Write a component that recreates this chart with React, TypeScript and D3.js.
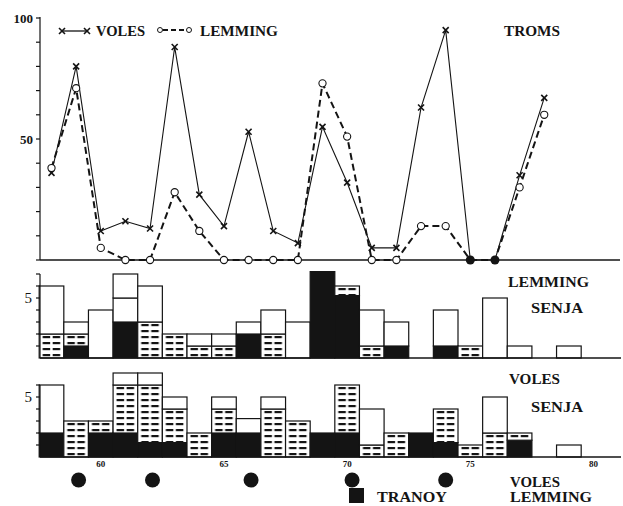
import React from 'react';
import * as d3 from 'd3';

// ---- Top panel (TROMS), index values 0-100 ----
const years = [58, 59, 60, 61, 62, 63, 64, 65, 66, 67, 68, 69, 70, 71, 72, 73, 74, 75, 76, 77, 78];
const voles = [36, 80, 12, 16, 13, 88, 27, 14, 53, 12, 7, 55, 32, 5, 5, 63, 95, 0, 0, 35, 67];
const lemming = [38, 71, 5, 0, 0, 28, 12, 0, 0, 0, 0, 73, 51, 0, 0, 14, 14, 0, 0, 30, 60];
const filledZeroYears = [75, 76];
const topTicks = [0, 10, 20, 30, 40, 50, 60, 70, 80, 90, 100];
const topTickLabels = [50, 100];

// ---- Stacked bars (SENJA), years 58-79 ----
const barYears = [58, 59, 60, 61, 62, 63, 64, 65, 66, 67, 68, 69, 70, 71, 72, 73, 74, 75, 76, 77, 78, 79];
// Lemming Senja
const lemBlack = [0, 1, 0, 3, 0, 0, 0, 0, 2, 0, 0, 7.2, 5.2, 0, 1, 0, 1, 0, 0, 0, 0, 0];
const lemHatch = [2, 1, 0, 0, 3, 2, 1, 1, 0, 2, 0, 0, 0.8, 1, 0, 0, 0, 1, 0, 0, 0, 0];
const lemWhite = [4, 1, 4, 2, 3, 0, 1, 1, 1, 2, 3, 0, 0, 3, 2, 0, 3, 0, 5, 1, 0, 1];
const lemWhite2 = [0, 0, 0, 2, 0, 0, 0, 0, 0, 0, 0, 0, 0, 0, 0, 0, 0, 0, 0, 0, 0, 0];
// Voles Senja
const volBlack = [2, 0, 2, 2, 1.2, 1.2, 0, 2, 2, 0, 0, 2, 2, 0, 0, 2, 1.2, 0, 0, 1.4, 0, 0];
const volHatch = [0, 3, 1, 4, 4.8, 2.8, 2, 2, 0, 4, 3, 0, 4, 1, 2, 0, 2.8, 1, 2, 0.6, 0, 0];
const volWhite = [4, 0, 0, 1, 1, 1, 0, 1, 1.2, 1, 0, 0, 0, 3, 0, 0, 0, 0, 3, 0, 0, 1];
const volWhite2 = [0, 0, 0, 0, 0, 0, 0, 0, 0, 0, 0, 0, 0, 0, 0, 0, 0, 0, 0, 0, 0, 0];
const midTicks = [1, 2, 3, 4, 5, 6, 7];
const botTicks = [1, 2, 3, 4, 5, 6];

const yearTicks = [60, 65, 70, 75, 80];
const tranoyDots = [59.1, 62.1, 66.1, 70.2, 74.0];
const tranoySquare = 70.4;

const FONT = "'Liberation Serif', 'Times New Roman', serif";
const INK = '#141414';

function Stack({ x, y, black, hatch, white, white2, patternId }: any) {
  const bw = x(1) - x(0);
  const out: any[] = [];
  barYears.forEach((yr, i) => {
    const segs = [
      { v: black[i], fill: INK },
      { v: hatch[i], fill: `url(#${patternId})` },
      { v: white[i], fill: '#fff' },
      { v: white2[i], fill: '#fff' },
    ];
    let base = 0;
    segs.forEach((s, j) => {
      if (s.v > 0) {
        const y0 = y(base);
        const y1 = y(base + s.v);
        out.push(
          <rect key={`${yr}-${j}`} x={x(yr) - bw / 2} y={y1} width={bw} height={y0 - y1}
            fill={s.fill} stroke={INK} strokeWidth={1.2} />
        );
        base += s.v;
      }
    });
  });
  return <g>{out}</g>;
}

function XMark({ cx, cy }: any) {
  const s = 3;
  return (
    <g stroke={INK} strokeWidth={1.6}>
      <line x1={cx - s} y1={cy - s} x2={cx + s} y2={cy + s} />
      <line x1={cx - s} y1={cy + s} x2={cx + s} y2={cy - s} />
    </g>
  );
}

export default function App() {
  const W = 623, H = 506;
  const x = d3.scaleLinear().domain([58, 80]).range([51.5, 593.5]);
  const bw = x(1) - x(0);
  const yTop = d3.scaleLinear().domain([0, 100]).range([260, 18]);
  const yMid = d3.scaleLinear().domain([0, 7]).range([358, 274]);
  const yBot = d3.scaleLinear().domain([0, 6]).range([457, 385]);
  const axisX = 40;

  const line = d3.line<number>().x((_, i) => x(years[i])).y((d) => yTop(d));

  const textStyle = { fontFamily: FONT, fontWeight: 'bold' as const, fill: INK };

  return (
    <svg width={W} height={H} style={{ position: 'absolute', left: 0, top: 0, background: '#fff' }}>
      <defs>
        {[
          { id: 'hatchMid', base: yMid(0) },
          { id: 'hatchBot', base: yBot(0) },
        ].map((p) => (
          <pattern key={p.id} id={p.id} patternUnits="userSpaceOnUse" x={x(57.5)} y={p.base}
            width={bw} height={6}>
            <rect x={0} y={0} width={bw} height={6} fill="#fff" />
            <rect x={3.5} y={2} width={7.5} height={2.2} fill={INK} />
            <rect x={13.5} y={2} width={7.5} height={2.2} fill={INK} />
          </pattern>
        ))}
      </defs>

      {/* ===== TOP PANEL ===== */}
      <line x1={axisX} x2={axisX} y1={yTop(100) - 1} y2={yTop(0)} stroke={INK} strokeWidth={1.2} />
      {topTicks.map((t) => (
        <line key={t} x1={axisX - 4} x2={axisX} y1={yTop(t)} y2={yTop(t)} stroke={INK} strokeWidth={1.2} />
      ))}
      {topTickLabels.map((t) => (
        <text key={t} x={axisX - 7} y={yTop(t) + 4.5} textAnchor="end" fontSize={13} {...textStyle}>{t}</text>
      ))}
      <line x1={axisX} x2={620} y1={yTop(0)} y2={yTop(0)} stroke={INK} strokeWidth={1.5} />

      <path d={line(lemming) || ''} fill="none" stroke={INK} strokeWidth={2} strokeDasharray="7,4" />
      <path d={line(voles) || ''} fill="none" stroke={INK} strokeWidth={1.1} />
      {voles.map((v, i) =>
        filledZeroYears.includes(years[i]) ? null : <XMark key={`v${i}`} cx={x(years[i])} cy={yTop(v)} />
      )}
      {lemming.map((v, i) =>
        filledZeroYears.includes(years[i]) ? null : (
          <circle key={`l${i}`} cx={x(years[i])} cy={yTop(v)} r={3.6} fill="#fff" stroke={INK} strokeWidth={1.1} />
        )
      )}
      {filledZeroYears.map((yr) => (
        <circle key={`f${yr}`} cx={x(yr)} cy={yTop(0)} r={4.5} fill={INK} />
      ))}

      {/* legend */}
      <line x1={62} x2={87} y1={31} y2={31} stroke={INK} strokeWidth={1.3} />
      <XMark cx={62} cy={31} />
      <XMark cx={87} cy={31} />
      <text x={96} y={36} fontSize={15} textLength={49} lengthAdjust="spacingAndGlyphs" {...textStyle}>VOLES</text>
      <line x1={163} x2={186} y1={30} y2={30} stroke={INK} strokeWidth={1.8} strokeDasharray="5,3" />
      <circle cx={160} cy={30} r={2.5} fill="#fff" stroke={INK} strokeWidth={1} />
      <circle cx={189} cy={30} r={2.5} fill="#fff" stroke={INK} strokeWidth={1} />
      <text x={200} y={36} fontSize={15} textLength={78} lengthAdjust="spacingAndGlyphs" {...textStyle}>LEMMING</text>
      <text x={504} y={36} fontSize={15} textLength={56} lengthAdjust="spacingAndGlyphs" {...textStyle}>TROMS</text>

      {/* ===== MIDDLE PANEL: LEMMING SENJA ===== */}
      <Stack x={x} y={yMid} black={lemBlack} hatch={lemHatch} white={lemWhite} white2={lemWhite2} patternId="hatchMid" />
      <line x1={axisX} x2={axisX} y1={yMid(7)} y2={yMid(0)} stroke={INK} strokeWidth={1.2} />
      {midTicks.map((t) => (
        <line key={t} x1={axisX - 4} x2={axisX} y1={yMid(t)} y2={yMid(t)} stroke={INK} strokeWidth={1.2} />
      ))}
      <text x={axisX - 8} y={yMid(5) + 5} textAnchor="end" fontSize={15} fontFamily={FONT} fill={INK}>5</text>
      <line x1={axisX} x2={621} y1={yMid(0)} y2={yMid(0)} stroke={INK} strokeWidth={1.4} />
      <text x={508} y={287} fontSize={15} textLength={81} lengthAdjust="spacingAndGlyphs" {...textStyle}>LEMMING</text>
      <text x={531} y={313} fontSize={15} textLength={52} lengthAdjust="spacingAndGlyphs" {...textStyle}>SENJA</text>

      {/* ===== BOTTOM PANEL: VOLES SENJA ===== */}
      <Stack x={x} y={yBot} black={volBlack} hatch={volHatch} white={volWhite} white2={volWhite2} patternId="hatchBot" />
      <line x1={axisX} x2={axisX} y1={yBot(6)} y2={yBot(0)} stroke={INK} strokeWidth={1.2} />
      {botTicks.map((t) => (
        <line key={t} x1={axisX - 4} x2={axisX} y1={yBot(t)} y2={yBot(t)} stroke={INK} strokeWidth={1.2} />
      ))}
      <text x={axisX - 8} y={yBot(5) + 5} textAnchor="end" fontSize={15} fontFamily={FONT} fill={INK}>5</text>
      <line x1={axisX} x2={621} y1={yBot(0)} y2={yBot(0)} stroke={INK} strokeWidth={1.4} />
      {yearTicks.map((t) => (
        <text key={t} x={x(t)} y={467} textAnchor="middle" fontSize={9} {...textStyle}>{t}</text>
      ))}
      <text x={509} y={384} fontSize={15} textLength={51} lengthAdjust="spacingAndGlyphs" {...textStyle}>VOLES</text>
      <text x={531} y={412} fontSize={15} textLength={52} lengthAdjust="spacingAndGlyphs" {...textStyle}>SENJA</text>

      {/* ===== TRANOY legend ===== */}
      {tranoyDots.map((yr) => (
        <circle key={yr} cx={x(yr)} cy={480} r={7.5} fill={INK} />
      ))}
      <rect x={x(tranoySquare) - 8} y={488} width={15} height={15} fill={INK} />
      <text x={377} y={502} fontSize={15} textLength={70} lengthAdjust="spacingAndGlyphs" {...textStyle}>TRANOY</text>
      <text x={510} y={487} fontSize={15} textLength={50} lengthAdjust="spacingAndGlyphs" {...textStyle}>VOLES</text>
      <text x={510} y={502} fontSize={15} textLength={82} lengthAdjust="spacingAndGlyphs" {...textStyle}>LEMMING</text>
    </svg>
  );
}
